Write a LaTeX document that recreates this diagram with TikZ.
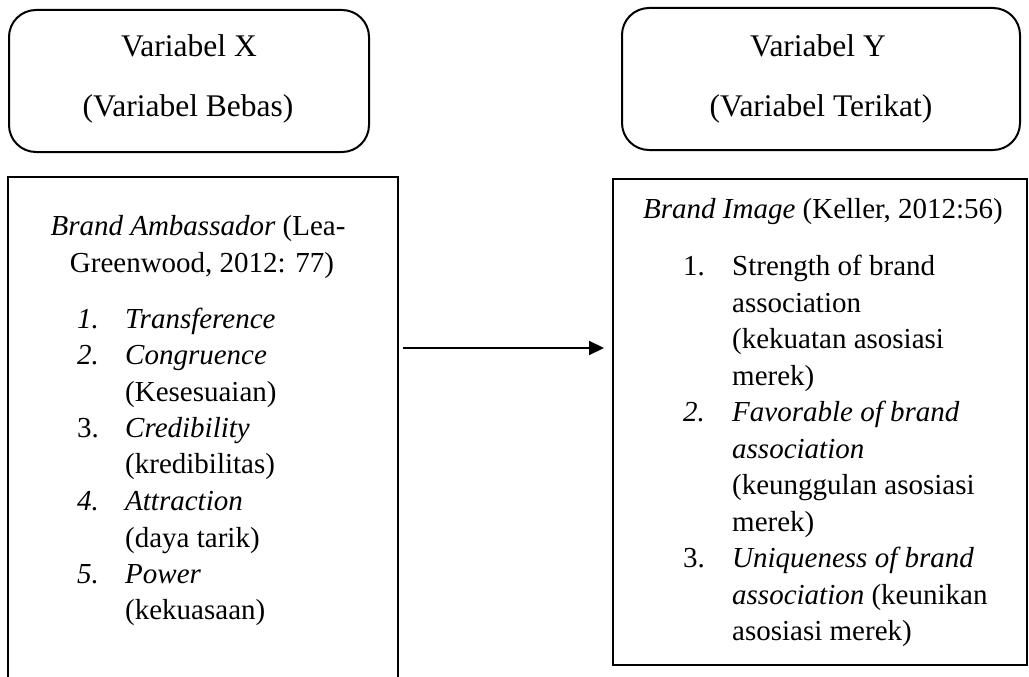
\documentclass[tikz,border=0pt]{standalone}
\usepackage{fontspec}
\setmainfont{Liberation Serif}
\usetikzlibrary{arrows.meta}
\begin{document}
\begin{tikzpicture}[x=1pt,y=-1pt,
  boxline/.style={draw=black, line width=2pt, inner sep=0pt},
  txt/.style={inner sep=0pt, anchor=base west, font=\fontsize{29}{36}\selectfont},
  ctxt/.style={inner sep=0pt, anchor=base, font=\fontsize{29}{36}\selectfont},
  htxt/.style={inner sep=0pt, anchor=base, font=\fontsize{31.5}{36}\selectfont},
  conn/.style={line width=2pt, -{Triangle[length=15pt,width=14pt]}}]
\useasboundingbox (0,0) rectangle (1029,677);
% boxes
\node[boxline, rounded corners=27pt, minimum width=360pt, minimum height=142pt] (vx) at (189,81) {};
\node[boxline, rounded corners=27pt, minimum width=398pt, minimum height=142pt] (vy) at (821,79) {};
\node[boxline, minimum width=390pt, minimum height=523pt] (lb) at (203,438.5) {};
\node[boxline, minimum width=414pt, minimum height=486pt] (rb) at (820,422) {};
% header texts
\node[htxt] (vx1) at (189,57) {Variabel X};
\node[htxt] (vx2) at (188,117) {(Variabel Bebas)};
\node[htxt] (vy1) at (818,57) {Variabel Y};
\node[htxt] (vy2) at (821,117) {(Variabel Terikat)};
% left box
\node[ctxt] (l0a) at (198,235) {\textit{Brand Ambassador} (Lea-};
\node[ctxt] (l0b) at (202,272) {Greenwood, 2012: 77)};
\node[txt] (ln1) at (77,328) {\textit{1.}};
\node[txt] (lt1) at (125,328) {\textit{Transference}};
\node[txt] (ln2) at (77,364) {\textit{2.}};
\node[txt] (lt2) at (125,364) {\textit{Congruence}};
\node[txt] (lt2b) at (125,401) {(Kesesuaian)};
\node[txt] (ln3) at (77,437) {3.};
\node[txt] (lt3) at (125,437) {\textit{Credibility}};
\node[txt] (lt3b) at (125,473) {(kredibilitas)};
\node[txt] (ln4) at (77,510) {\textit{4.}};
\node[txt] (lt4) at (125,510) {\textit{Attraction}};
\node[txt] (lt4b) at (125,547) {(daya tarik)};
\node[txt] (ln5) at (77,583) {\textit{5.}};
\node[txt] (lt5) at (125,583) {\textit{Power}};
\node[txt] (lt5b) at (125,619) {(kekuasaan)};
% right box
\node[txt] (r0) at (643,218) {\textit{Brand Image} (Keller, 2012:56)};
\node[txt] (rn1) at (683,275) {1.};
\node[txt] (rt1) at (732,275) {Strength of brand};
\node[txt] (rt1b) at (732,312) {association};
\node[txt] (rt1c) at (732,348) {(kekuatan asosiasi};
\node[txt] (rt1d) at (732,385) {merek)};
\node[txt] (rn2) at (683,421) {\textit{2.}};
\node[txt] (rt2) at (732,421) {\textit{Favorable of brand}};
\node[txt] (rt2b) at (732,458) {\textit{association}};
\node[txt] (rt2c) at (732,494) {(keunggulan asosiasi};
\node[txt] (rt2d) at (732,531) {merek)};
\node[txt] (rn3) at (683,567) {3.};
\node[txt] (rt3) at (732,567) {\textit{Uniqueness of brand}};
\node[txt] (rt3b) at (732,604) {\textit{association} (keunikan};
\node[txt] (rt3c) at (732,640) {asosiasi merek)};
% arrow
\coordinate (ay) at (0,348);
\draw[conn] ([xshift=4pt]lb.east |- ay) -- ([xshift=-8pt]rb.west |- ay);
\end{tikzpicture}
\end{document}
